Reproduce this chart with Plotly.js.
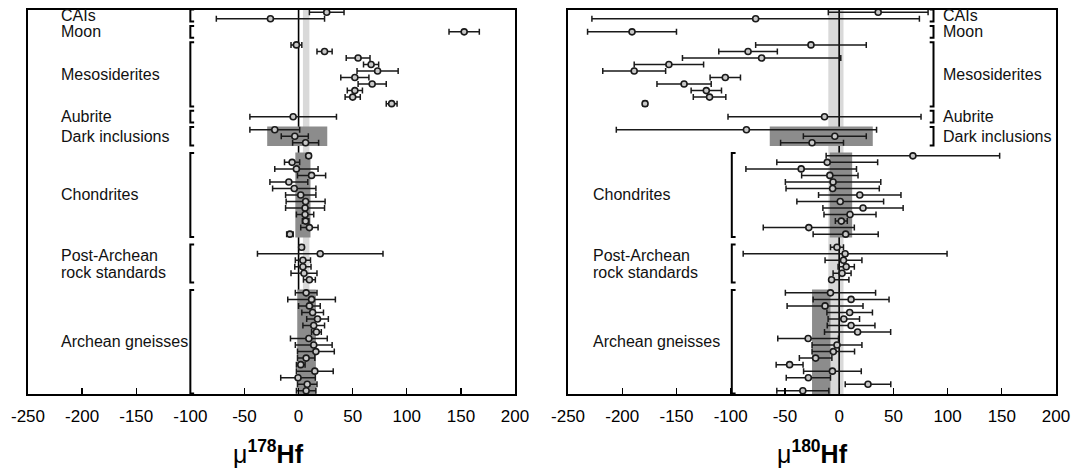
<!DOCTYPE html>
<html><head><meta charset="utf-8">
<script src="https://cdn.plot.ly/plotly-3.0.1.min.js"></script>
<style>html,body{margin:0;padding:0;background:#fff}#chart{width:1073px;height:470px}</style>
</head><body><div id="chart"></div>
<script>
// ---- data ----
const groupNames = ["CAIs","Moon","Mesosiderites","Aubrite","Dark inclusions","Chondrites","Post-Archean rock standards","Archean gneisses"];
const sampleGroup = [0,0, 1, 2,2,2,2,2,2,2,2,2,2, 3, 4,4,4,
  5,5,5,5,5,5,5,5,5,5,5,5,5, 6,6,6,6,6,6,
  7,7,7,7,7,7,7,7,7,7,7,7,7,7,7,7];
const hf178 = [26,-26, 153, -2,24,55,67,73,52,68,52,50,86, -5, -22,-3.5,6.5,
  9.3,-6,-2,12,-9,-4,2,6.5,6,6,6.5,10,-8, 2.8,20,4,4,5,10,
  7,12,10,13,17.5,14,16.5,9.5,14,16,7,2,15,-0.5,8,7];
const hf178Err = [16,50, 14, 5,7,11,7,19,13,13,7,7,5, 40, 23,12.5,12,
  2,7,20,13,17.5,20,14,18,18,8,3,8,3, 2,58,7,7.5,12,5.5,
  10,22,10,10,10,10,4.5,17,17,17,8,4,17,16,9,9];
const hf180 = [36,-77, -191, -26,-84,-71.5,-157,-189,-105,-143,-122.5,-119.5,-179, -13.5, -85.5,-4,-25,
  68,-11,-35,-8.6,-5.6,-6,19,1,22,10,2,-28,6, -2,5.5,4,6.5,2.7,-7,
  -8,11,-13,9.7,4.3,11,17,-28.6,-2,-5.4,-21.7,-45.7,-6.2,-28.4,26.6,-33.5];
const hf180ErrPlus = [46,151, 41, 51,27,73,32,29,14,25,14,15,2, 89, 120,29,29,
  80,46.5,51,26,44,43,38,40,37,24,5.5,42,30, 6,94,17,7.5,8.3,16,
  41.6,35,35,21,14.5,22,30.5,28,23,19.6,15,12.4,26.6,20.4,21,24];
const hf180ErrMinus = [46,151, 41, 51,27,73,32,29,14,25,14,15,2, 89, 120,29,29,
  80,46.5,51,26,44,43,38,40,37,24,5.5,42,30, 6,94,17,7.5,8.3,1.5,
  41.6,35,35,21,14.5,22,30.5,28,23,19.6,15,12.4,26.6,20.4,21,24];
// reference bands (terrestrial) and group 2-sigma ranges
const band178 = [4, 10];
const band180 = [-10, 4];
const boxGroups = [4, 5, 7];
const box178 = [[-29, 26.5], [-3, 11], [-1, 16]];
const box180 = [[-64, 31], [-8.7, 12], [-25, -8]];
const tickVals = [-250,-200,-150,-100,-50,0,50,100,150,200];
const tickText = ["-250","-200","-150","-100","-50","0","50","100","150","200"];

// ---- derived rows: one blank row between groups ----
const rows = sampleGroup.map((g, i) => i + g);
const gFirst = groupNames.map((_, g) => Math.min(...rows.filter((r, i) => sampleGroup[i] === g)));
const gLast = groupNames.map((_, g) => Math.max(...rows.filter((r, i) => sampleGroup[i] === g)));
const yMax = Math.max(...rows);

const FONT = "Liberation Sans, Arial, sans-serif";
const markerStyle = {symbol: "circle", size: 6, color: "#c8c8c8", line: {color: "#1a1a1a", width: 1.6}};
const errStyle = {color: "#1a1a1a", thickness: 1.5, width: 3};

const traces = [
  {type: "scatter", mode: "markers", x: hf178, y: rows, xaxis: "x", yaxis: "y",
   marker: markerStyle, error_x: Object.assign({type: "data", array: hf178Err, visible: true}, errStyle),
   hoverinfo: "x"},
  {type: "scatter", mode: "markers", x: hf180, y: rows, xaxis: "x2", yaxis: "y2",
   marker: markerStyle, error_x: Object.assign({type: "data", array: hf180ErrPlus, arrayminus: hf180ErrMinus, symmetric: false, visible: true}, errStyle),
   hoverinfo: "x"}
];

const shapes = [];
const annotations = [];
function panelShapes(xr, yr, band, boxes) {
  shapes.push({type: "rect", xref: xr, yref: yr + " domain", x0: band[0], x1: band[1], y0: 0, y1: 1,
    fillcolor: "#d9d9d9", line: {width: 0}, layer: "below"});
  boxGroups.forEach((g, k) => {
    shapes.push({type: "rect", xref: xr, yref: yr, x0: boxes[k][0], x1: boxes[k][1],
      y0: gFirst[g] - 0.5, y1: Math.min(gLast[g] + 0.5, yMax + 0.5),
      fillcolor: "#8c8c8c", line: {width: 0}, layer: "below"});
  });
  shapes.push({type: "line", xref: xr, yref: yr + " domain", x0: 0, x1: 0, y0: 0, y1: 1,
    line: {color: "#000", width: 1.6}, layer: "below"});
}
panelShapes("x", "y", band178, box178);
panelShapes("x2", "y2", band180, box180);

function bracket(xr, yr, g, xv, dir) {
  const c = (gFirst[g] + gLast[g]) / 2;
  const half = Math.max((gLast[g] - gFirst[g]) / 2 + 0.42, 0.9);
  const t = 3.5 * dir;
  const y0 = c - half, y1 = c + half;
  shapes.push({type: "path", xref: xr, yref: yr, layer: "above",
    path: `M${xv + t},${y0} L${xv},${y0} L${xv},${y1} L${xv + t},${y1}`,
    line: {color: "#000", width: 2}});
}
function label(xr, yr, g, xv) {
  const c = (gFirst[g] + gLast[g]) / 2;
  const name = groupNames[g];
  const common = {xref: xr, yref: yr, x: xv, xanchor: "left", yanchor: "middle", showarrow: false,
    font: {family: FONT, size: 16, color: "#111"}};
  if (name === "Post-Archean rock standards") {
    annotations.push(Object.assign({}, common, {y: c - 1.3, text: "Post-Archean"}));
    annotations.push(Object.assign({}, common, {y: c + 1.35, text: "rock standards"}));
  } else {
    annotations.push(Object.assign({}, common, {y: c, text: name}));
  }
}
groupNames.forEach((_, g) => {
  bracket("x", "y", g, -100, 1);
  label("x", "y", g, -221);
  if (g < 5) {
    bracket("x2", "y2", g, 87, -1);
    label("x2", "y2", g, 94);
  } else {
    bracket("x2", "y2", g, -99, 1);
    label("x2", "y2", g, -229);
  }
});

const dom1 = [0.0261, 0.4800], dom2 = [0.5294, 0.9842], domY = [0.1617, 0.9787];
annotations.push({xref: "paper", yref: "paper", x: (dom1[0] + dom1[1]) / 2 - 0.003, y: (470 - 452) / 470,
  xanchor: "center", yanchor: "middle", showarrow: false,
  text: "μ<b><sup>178</sup>Hf</b>", font: {family: FONT, size: 25, color: "#000"}});
annotations.push({xref: "paper", yref: "paper", x: (dom2[0] + dom2[1]) / 2, y: (470 - 452) / 470,
  xanchor: "center", yanchor: "middle", showarrow: false,
  text: "μ<b><sup>180</sup>Hf</b>", font: {family: FONT, size: 25, color: "#000"}});

function xAxis(dom, anchor) {
  return {domain: dom, anchor: anchor, range: [-250, 200], showgrid: false, zeroline: false,
    showline: true, mirror: true, linecolor: "#000", linewidth: 1.6,
    ticks: "inside", ticklen: 6, tickwidth: 1.3, tickcolor: "#000",
    tickmode: "array", tickvals: tickVals, ticktext: tickText, ticklabelstandoff: 6,
    tickfont: {family: FONT, size: 17, color: "#000"}};
}
function yAxis(anchor) {
  return {domain: domY, anchor: anchor, range: [yMax + 0.5, -0.35], showgrid: false, zeroline: false,
    showline: true, mirror: true, linecolor: "#000", linewidth: 1.6, ticks: "", showticklabels: false};
}

const layout = {
  width: 1073, height: 470, margin: {l: 0, r: 0, t: 0, b: 0},
  paper_bgcolor: "#fff", plot_bgcolor: "#fff", showlegend: false,
  xaxis: xAxis(dom1, "y"), yaxis: yAxis("x"),
  xaxis2: xAxis(dom2, "y2"), yaxis2: yAxis("x2"),
  shapes: shapes, annotations: annotations
};
Plotly.newPlot("chart", traces, layout, {displayModeBar: false, staticPlot: true});
</script></body></html>
